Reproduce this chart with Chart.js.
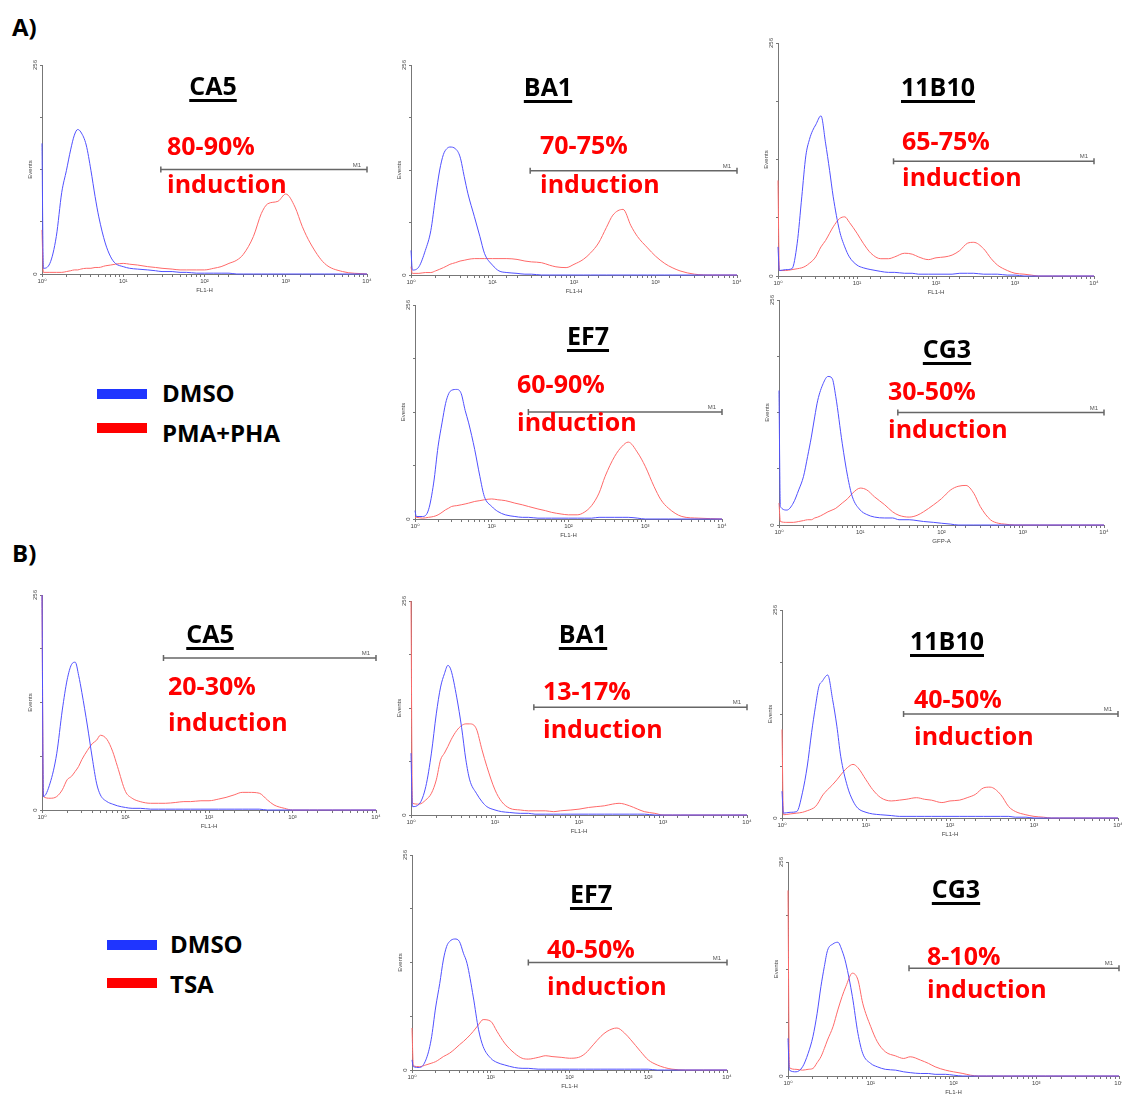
<!DOCTYPE html>
<html>
<head>
<meta charset="utf-8">
<script src="https://cdn.jsdelivr.net/npm/chart.js@4.4.1/dist/chart.umd.min.js"></script>
<style>
  body { margin: 0; background: #fff; }
  #page { position: relative; width: 1122px; height: 1095px; overflow: hidden; background: #fff; }
  canvas { position: absolute; }
  .txt { position: absolute; font-family: "Open Sans", sans-serif; font-weight: 700; line-height: 1; white-space: nowrap; }
  .title { font-size: 25px; color: #000; transform: translateX(-50%); text-decoration: underline; text-decoration-thickness: 2.5px; text-underline-offset: 4px; }
  .pct { font-size: 25px; color: #ff0000; }
  .leg { font-size: 24px; color: #000; }
  .bar { position: absolute; width: 50px; height: 10px; }
</style>
</head>
<body>
<div id="page"></div>
<script>
// fluorescence channel grid shared by every histogram
const fl = [1, 1.04, 1.25, 1.5, 1.75, 2, 2.25, 2.5, 2.75, 3, 3.5, 4, 4.5, 5, 6, 7, 8, 10, 12, 15,
  20, 25, 30, 40, 50, 60, 80, 100, 130, 160, 200, 250, 300, 400, 500, 600, 800, 1000, 1300, 1600,
  2000, 3000, 5000, 10000];

// A) DMSO vs PMA+PHA
const aCA5Dmso = [160,7,13,46,100,127,152,170,177,174, 158,127,95,70,38,21,13,9,7,6, 5,4,3,3,2,2,1,1,1,1, 1,0,0,0,0,0,0,0,0,0, 0,0,0,0];
const aCA5Pma  = [54,2,2,2,2,3,4,5,5,6, 7,7,8,8,10,11,12,13,12,11, 9,8,7,6,5,5,5,5,7,9, 13,17,24,46,74,86,89,98,82,58, 38,13,3,0];
const aBA1Dmso = [30,6,10,30,54,95,128,147,154,156, 154,144,120,99,71,47,26,12,5,3, 2,1,1,0,0,0,0,0,0,0, 0,0,0,0,0,0,0,0,0,0, 0,0,0,0];
const aBA1Pma  = [10,2,2,3,3,5,7,9,11,13, 15,17,18,19,20,20,20,20,20,20, 19,17,16,15,12,10,9,13,19,27, 39,58,73,80,60,47,33,23,14,9, 5,1,0,0];
const a11B10Dmso = [32,6,7,8,36,87,132,150,160,166, 176,146,116,87,50,32,21,12,9,7, 5,4,4,3,3,2,2,2,2,2, 3,3,3,2,2,2,1,1,0,0, 0,0,0,0];
const a11B10Pma  = [105,6,6,7,8,9,11,14,17,21, 32,39,47,54,63,65,59,47,36,25, 19,19,21,25,24,21,18,20,21,23, 28,36,37,30,19,12,6,3,2,1, 0,0,0,0];
const aEF7Dmso = [10,3,3,11,43,87,115,138,150,154, 155,150,130,115,83,51,27,15,9,5, 3,2,2,1,1,1,1,1,1,1, 1,2,2,2,2,2,1,0,0,0, 0,0,0,0];
const aEF7Pma  = [2,2,1,2,3,5,8,11,13,15, 16,17,18,19,21,22,23,24,23,22, 19,17,15,12,10,8,6,5,5,8, 16,31,51,75,87,92,79,63,39,23, 13,3,1,0];
const aCG3Dmso = [153,21,17,25,40,55,78,100,123,142, 161,169,167,146,93,55,32,17,12,9, 8,8,6,6,5,4,3,2,1,0, 0,0,0,0,0,0,0,0,0,0, 0,0,0,0];
const aCG3Pma  = [25,4,3,3,4,5,6,6,8,9, 12,15,17,19,25,30,36,42,40,32, 23,15,11,9,11,15,23,30,40,44, 45,36,21,6,2,1,0,0,0,0, 0,0,0,0];

// B) DMSO vs TSA
const bCA5Dmso = [256,16,32,67,119,155,173,176,160,140, 100,62,32,18,10,7,5,3,2,2, 1,1,1,1,1,1,1,1,1,1, 1,1,1,1,0,0,0,0,0,0, 0,0,0,0];
const bCA5Tsa  = [256,16,14,16,24,36,40,46,52,60, 71,79,83,89,84,70,52,22,14,10, 8,8,8,9,10,10,11,11,13,15, 18,21,21,20,12,6,2,0,0,0, 0,0,0,0];
const bBA1Dmso = [74,10,13,34,74,121,153,169,179,173, 141,105,66,42,26,16,10,6,4,3, 2,2,1,1,1,1,1,1,1,1, 1,1,1,1,1,1,0,0,0,0, 0,0,0,0];
const bBA1Tsa  = [256,14,13,18,26,42,66,74,82,90, 101,107,109,109,103,78,58,30,16,8, 6,5,5,5,4,5,6,7,9,10, 11,13,14,11,7,4,2,0,0,0, 0,0,0,0];
const b11B10Dmso = [33,6,7,8,31,64,105,137,162,168, 176,146,113,76,39,21,12,7,5,4, 3,2,2,2,2,2,2,2,2,2, 2,2,2,2,2,1,1,0,0,0, 0,0,0,0];
const b11B10Tsa  = [109,4,5,6,7,9,11,14,20,27, 35,41,47,53,62,66,62,47,35,25, 21,22,23,25,23,22,19,21,22,25, 29,37,38,29,14,8,4,2,1,0, 0,0,0,0];
const bEF7Dmso = [12,4,3,12,36,75,103,131,147,153, 156,153,139,127,87,48,28,14,9,6, 3,2,2,1,1,1,1,1,1,1, 1,1,1,1,1,1,1,1,0,0, 0,0,0,0];
const bEF7Tsa  = [50,5,4,6,8,10,13,16,18,20, 25,30,34,38,46,54,60,58,46,32, 20,14,13,15,17,16,15,14,15,20, 30,40,46,50,44,36,22,12,6,3, 1,0,0,0];
const bCG3Dmso = [45,7,5,11,27,47,75,107,131,150, 158,160,150,135,95,51,27,15,11,8, 7,5,4,3,3,2,2,1,0,0, 0,0,0,0,0,0,0,0,0,0, 0,0,0,0];
const bCG3Tsa  = [222,10,8,7,8,9,16,23,33,43, 59,79,95,107,123,115,87,59,41,29, 24,21,23,19,15,11,7,5,3,1, 0,0,0,0,0,0,0,0,0,0, 0,0,0,0];

const panelNames = ["CA5", "BA1", "11B10", "EF7", "CG3", "CA5", "BA1", "11B10", "EF7", "CG3"];
const induction = ["80-90%", "70-75%", "65-75%", "60-90%", "30-50%", "20-30%", "13-17%", "40-50%", "40-50%", "8-10%"];
const xTitles = ["FL1-H", "FL1-H", "FL1-H", "FL1-H", "GFP-A", "FL1-H", "FL1-H", "FL1-H", "FL1-H", "FL1-H"];
const gateStart = [29, 29, 29, 30, 29, 28.5, 29, 28, 30, 29];
const gateLevel = [128, 127, 126, 128, 128, 181, 129, 128, 128, 129];
const controls = [aCA5Dmso, aBA1Dmso, a11B10Dmso, aEF7Dmso, aCG3Dmso, bCA5Dmso, bBA1Dmso, b11B10Dmso, bEF7Dmso, bCG3Dmso];
const treated = [aCA5Pma, aBA1Pma, a11B10Pma, aEF7Pma, aCG3Pma, bCA5Tsa, bBA1Tsa, b11B10Tsa, bEF7Tsa, bCG3Tsa];

// layout: plot area [left, top, right, bottom] of each panel
const plotBoxes = [
  [42, 65, 367, 274], [411, 65, 737, 275], [778, 43, 1094, 276], [415, 305, 722, 519], [779, 300, 1104, 525],
  [42, 595, 376, 810], [411, 601, 747, 815], [782, 610, 1118, 818], [412, 855, 727, 1070], [788, 862, 1119, 1076]
];
const titleAt = [[213, 73], [548, 74], [938, 74], [588, 323], [947, 336], [210, 621], [583, 621], [947, 628], [591, 881], [956, 876]];
const pctAt = [[167, 133, 171], [540, 132, 171], [902, 128, 164], [517, 371, 409], [888, 378, 416],
  [168, 673, 709], [543, 678, 716], [914, 686, 723], [547, 936, 973], [927, 943, 976]];

const page = document.getElementById("page");
const axisColor = "#777";
const tickFont = { family: "'Liberation Sans', 'DejaVu Sans', sans-serif", size: 6 };
const sup = { 1: "10\u2070", 10: "10\u00b9", 100: "10\u00b2", 1000: "10\u00b3", 10000: "10\u2074" };

function addText(cls, text, x, y) {
  const d = document.createElement("div");
  d.className = "txt " + cls;
  d.textContent = text;
  d.style.left = x + "px";
  d.style.top = y + "px";
  page.appendChild(d);
}

function addBar(color, x, y) {
  const d = document.createElement("div");
  d.className = "bar";
  d.style.background = color;
  d.style.left = x + "px";
  d.style.top = y + "px";
  page.appendChild(d);
}

// draws the "M1" tag at the right end of the marker
const gateLabel = {
  id: "gateLabel",
  afterDatasetsDraw(chart) {
    const end = chart.getDatasetMeta(2).data[1];
    const ctx = chart.ctx;
    ctx.save();
    ctx.font = "6px 'Liberation Sans', sans-serif";
    ctx.fillStyle = "#555";
    ctx.textAlign = "right";
    ctx.fillText("M1", end.x - 6, end.y - 3);
    ctx.restore();
  }
};

plotBoxes.forEach((box, i) => {
  const [l, t, r, b] = box;
  const canvas = document.createElement("canvas");
  const w = r - l + 15 + 8, h = b - t + 8 + 20;
  canvas.width = w;
  canvas.height = h;
  canvas.style.left = (l - 15) + "px";
  canvas.style.top = (t - 8) + "px";
  page.appendChild(canvas);

  new Chart(canvas.getContext("2d"), {
    type: "line",
    data: {
      datasets: [
        {
          data: fl.map((x, k) => ({ x: x, y: controls[i][k] })),
          borderColor: "rgb(80,80,255)",
          borderWidth: 1,
          clip: false
        },
        {
          data: fl.map((x, k) => ({ x: x, y: treated[i][k] })),
          borderColor: "rgb(255,105,105)",
          borderWidth: 1,
          clip: false
        },
        {
          data: [{ x: gateStart[i], y: gateLevel[i] }, { x: 10000, y: gateLevel[i] }],
          borderColor: "#666",
          borderWidth: 1.5,
          pointRadius: 3,
          pointStyle: "line",
          rotation: 90,
          pointBorderColor: "#666",
          pointBorderWidth: 1.5,
          clip: false
        }
      ]
    },
    options: {
      responsive: false,
      animation: false,
      layout: { padding: { top: 8, right: 8, left: 0, bottom: 0 } },
      elements: { point: { radius: 0 }, line: { cubicInterpolationMode: "monotone" } },
      plugins: { legend: { display: false }, tooltip: { enabled: false } },
      scales: {
        x: {
          type: "logarithmic",
          min: 1,
          max: 10000,
          border: { color: axisColor, width: 1 },
          grid: { drawOnChartArea: false, tickLength: 3, color: axisColor },
          ticks: {
            autoSkip: false, maxRotation: 0, padding: 1, font: tickFont, color: "#444",
            callback: v => sup[v] || ""
          },
          title: { display: true, text: xTitles[i], font: tickFont, color: "#444", padding: 0 },
          afterFit: s => { s.height = 20; }
        },
        y: {
          min: 0,
          max: 256,
          border: { color: axisColor, width: 1 },
          grid: { drawOnChartArea: false, tickLength: 2, color: axisColor },
          ticks: {
            stepSize: 64, minRotation: 90, maxRotation: 90, padding: 0, crossAlign: "center",
            font: tickFont, color: "#444",
            callback: v => (v === 0 || v === 256) ? String(v) : ""
          },
          title: { display: true, text: "Events", font: tickFont, color: "#444", padding: 0 },
          afterFit: s => { s.width = 15; }
        }
      }
    },
    plugins: [gateLabel]
  });

  addText("title", panelNames[i], titleAt[i][0], titleAt[i][1]);
  addText("pct", induction[i], pctAt[i][0], pctAt[i][1]);
  addText("pct", "induction", pctAt[i][0], pctAt[i][2]);
});

// panel letters and legends
addText("leg", "A)", 12, 15);
addText("leg", "B)", 12, 541);
addBar("#1f35ff", 97, 389);
addBar("#ff0000", 97, 423);
addText("leg", "DMSO", 162, 381);
addText("leg", "PMA+PHA", 162, 421);
addBar("#1f35ff", 107, 940);
addBar("#ff0000", 107, 978);
addText("leg", "DMSO", 170, 932);
addText("leg", "TSA", 170, 972);
</script>
</body>
</html>
